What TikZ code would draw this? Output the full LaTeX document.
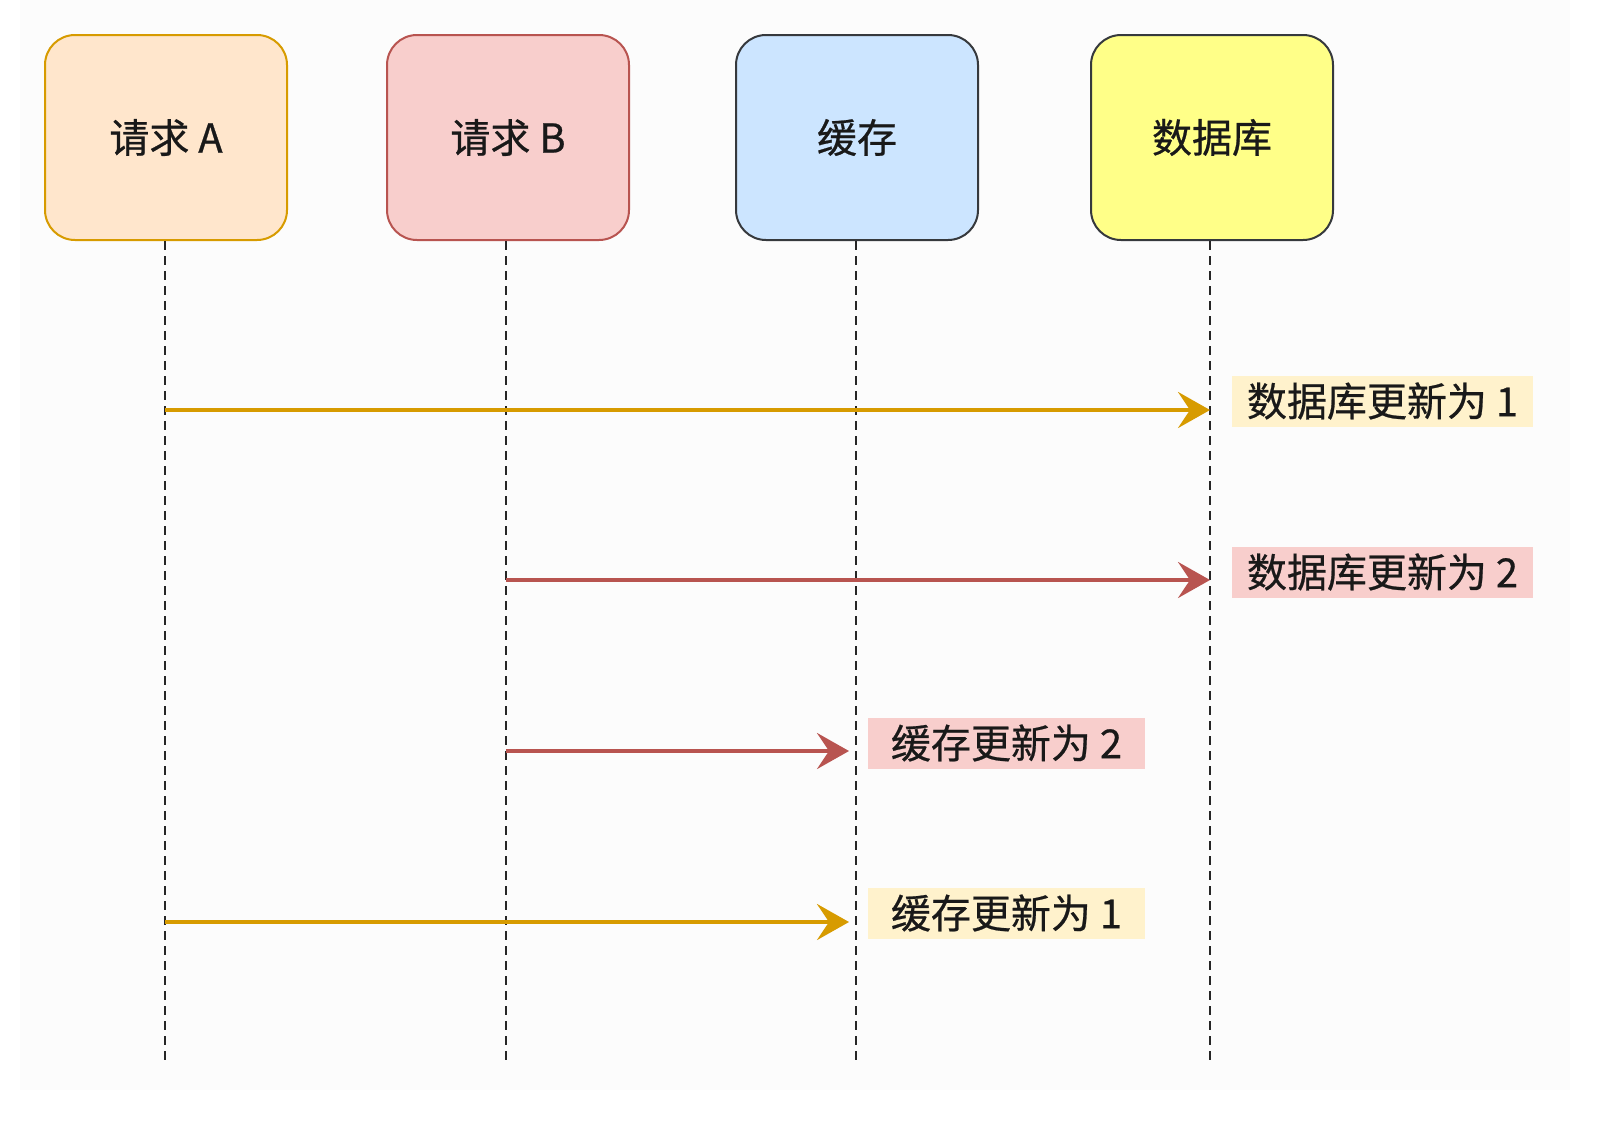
\documentclass[tikz,border=0pt]{standalone}
\usepackage{fontspec}
\setmainfont{Noto Sans CJK SC}[FakeBold=0.6]
\usetikzlibrary{arrows.meta}
\definecolor{aFill}{HTML}{FFE6CC}
\definecolor{aLine}{HTML}{D79B00}
\definecolor{bFill}{HTML}{F8CECC}
\definecolor{bLine}{HTML}{B85450}
\definecolor{cFill}{HTML}{CCE5FF}
\definecolor{dFill}{HTML}{FFFF88}
\definecolor{darkLine}{HTML}{36393D}
\definecolor{noteY}{HTML}{FFF2CC}
\definecolor{bgc}{HTML}{FCFCFC}
\tikzset{
  actor/.style={draw, line width=1pt, rounded corners=15pt, minimum width=121pt, minimum height=102.5pt, font=\fontsize{20pt}{24pt}\selectfont, text=black!90},
  life/.style={draw=black!85, line width=0.8pt, dash pattern=on 4.5pt off 3pt},
  msg/.style={line width=2pt, -{Stealth[length=16pt,width=18pt,inset=6pt]}},
  note/.style={inner sep=0pt, minimum height=25.5pt, font=\fontsize{20pt}{24pt}\selectfont, text=black!90}
}
\begin{document}
\begin{tikzpicture}[x=0.5pt,y=-0.5pt]
\useasboundingbox (0,0) rectangle (1599,1135);
\fill[white] (0,0) rectangle (1599,1135);
\fill[bgc] (20,0) rectangle (1570,1090);
% actors
\node[actor, fill=aFill, draw=aLine] (A) at (166,137.5) {请求 A};
\node[actor, fill=bFill, draw=bLine] (B) at (508,137.5) {请求 B};
\node[actor, fill=cFill, draw=darkLine] (C) at (857,137.5) {缓存};
\node[actor, fill=dFill, draw=darkLine] (D) at (1212,137.5) {数据库};
% lifeline ends
\coordinate (Ae) at (165,1062);
\coordinate (Be) at (506,1062);
\coordinate (Ce) at (856,1062);
\coordinate (De) at (1210,1062);
\draw[life] (A.south -| Ae) -- (Ae);
\draw[life] (B.south -| Be) -- (Be);
\draw[life] (C.south -| Ce) -- (Ce);
\draw[life] (D.south -| De) -- (De);
% message points
\coordinate (m1s) at (165,410);
\coordinate (m1e) at (1210,410);
\coordinate (m2s) at (506,580);
\coordinate (m2e) at (1210,580);
\coordinate (m3s) at (506,751);
\coordinate (m3e) at (849,751);
\coordinate (m4s) at (165,922);
\coordinate (m4e) at (849,922);
\draw[msg, aLine] (m1s) -- (m1e);
\draw[msg, bLine] (m2s) -- (m2e);
\draw[msg, bLine] (m3s) -- (m3e);
\draw[msg, aLine] (m4s) -- (m4e);
% notes
\node[note, fill=noteY, minimum width=150.5pt] (n1) at (1382.5,401) {数据库更新为 1};
\node[note, fill=bFill, minimum width=150.5pt] (n2) at (1382.5,572) {数据库更新为 2};
\node[note, fill=bFill, minimum width=138.5pt] (n3) at (1006.5,743) {缓存更新为 2};
\node[note, fill=noteY, minimum width=138.5pt] (n4) at (1006.5,913) {缓存更新为 1};
\end{tikzpicture}
\end{document}
